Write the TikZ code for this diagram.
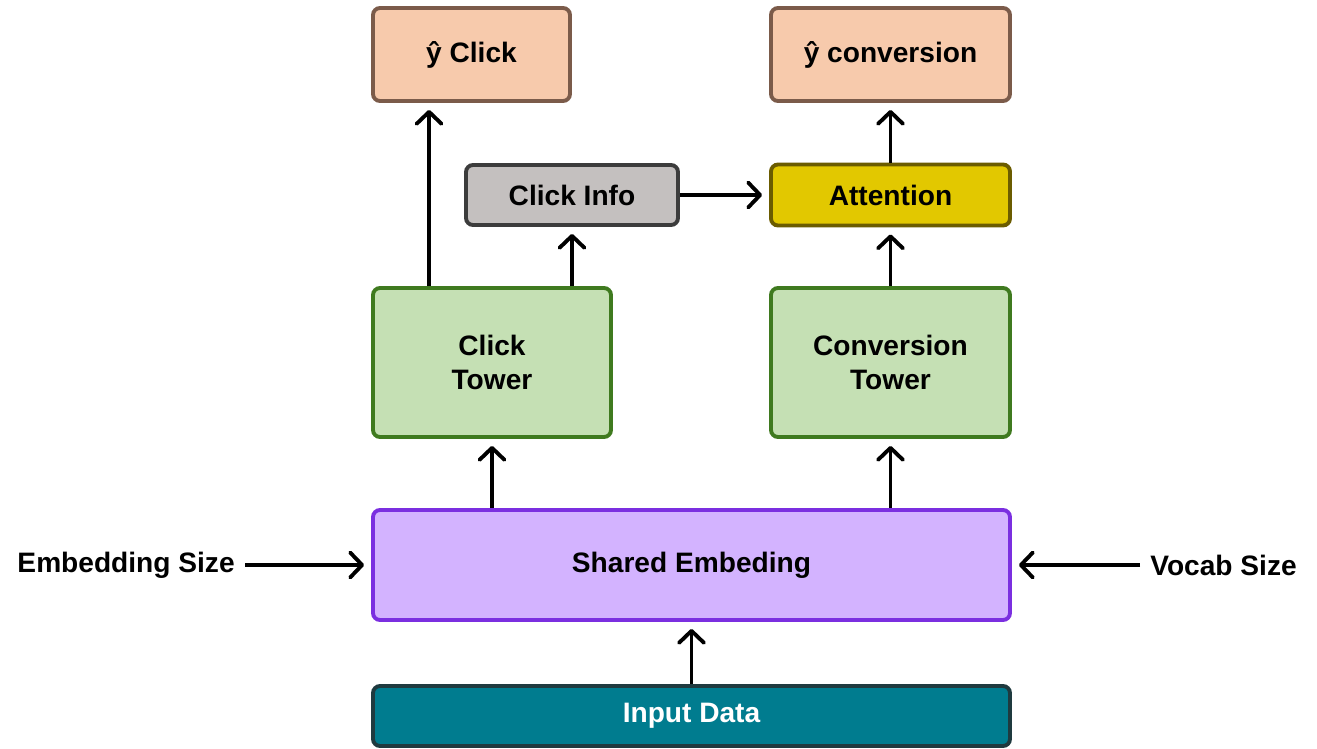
\documentclass[tikz,border=0pt]{standalone}
\usepackage{fontspec}
\setmainfont{Liberation Sans}
\usetikzlibrary{arrows.meta, positioning, calc}
\definecolor{peach}{HTML}{F7CAAC}
\definecolor{peachline}{HTML}{7B5B4A}
\definecolor{infogray}{HTML}{C4C0BF}
\definecolor{infoline}{HTML}{3C3C3C}
\definecolor{attfill}{HTML}{E2C800}
\definecolor{attline}{HTML}{6B5C00}
\definecolor{towerfill}{HTML}{C5E0B4}
\definecolor{towerline}{HTML}{3F7A1F}
\definecolor{embfill}{HTML}{D3B3FF}
\definecolor{embline}{HTML}{7B2FE0}
\definecolor{inputfill}{HTML}{007C8F}
\definecolor{inputline}{HTML}{1F3A3F}

\begin{document}
\begin{tikzpicture}[
  every node/.style={font=\bfseries\fontsize{16}{19.5}\selectfont},
  box/.style={draw, line width=2.2pt, rounded corners=0.14cm, align=center, inner sep=0},
  outbox/.style={box, fill=peach, draw=peachline, minimum height=1.86cm},
  tower/.style={box, fill=towerfill, draw=towerline, minimum width=4.76cm, minimum height=2.98cm},
  sidelabel/.style={inner sep=0.2cm},
  arr/.style={line width=2.2pt, shorten >=0.14cm,
              -{Straight Barb[length=2.4mm, width=5mm, line cap=round, line join=round]}}
]
\useasboundingbox (0,0) rectangle (26.34,-14.98);

% Output heads
\node[outbox, minimum width=3.94cm] (yclick) at (9.43,-1.09) {ŷ Click};
\node[outbox, minimum width=4.78cm] (yconv) at (17.81,-1.09) {ŷ conversion};

% Middle row
\node[box, fill=infogray, draw=infoline, minimum width=4.24cm, minimum height=1.2cm]
  (clickinfo) at (11.44,-3.9) {Click Info};
\node[box, fill=attfill, draw=attline, minimum width=4.78cm, minimum height=1.22cm]
  (attention) at (17.81,-3.9) {Attention};

% Towers
\node[tower] (clicktower) at (9.84,-7.25) {Click\\Tower};
\node[tower, minimum width=4.78cm] (convtower) at (17.81,-7.25) {Conversion\\Tower};

% Shared embedding and input
\node[box, fill=embfill, draw=embline, minimum width=12.74cm, minimum height=2.2cm]
  (shared) at (13.83,-11.3) {Shared Embeding};
\node[box, fill=inputfill, draw=inputline, text=white, minimum width=12.74cm, minimum height=1.2cm]
  (input) at (13.83,-14.32) {Input Data};

% Side inputs
\node[sidelabel, anchor=east] (embsize) at (4.9,-11.3) {Embedding Size};
\node[sidelabel, anchor=west] (vocab) at (22.8,-11.3) {Vocab Size};

% Connectors
\coordinate (ctop) at ([xshift=1.16cm]clicktower.north west);
\draw[arr] (ctop) -- (ctop |- yclick.south);
\draw[arr] (clickinfo.south |- clicktower.north) -- (clickinfo.south);
\draw[arr] (clickinfo.east) -- (attention.west);
\draw[arr] (attention.north) -- (yconv.south);
\draw[arr] (convtower.north) -- (attention.south);
\draw[arr] (clicktower.south |- shared.north) -- (clicktower.south);
\draw[arr] (convtower.south |- shared.north) -- (convtower.south);
\draw[arr] (input.north) -- (shared.south);
\draw[arr] (embsize.east) -- (shared.west);
\draw[arr] (vocab.west) -- (shared.east);

\end{tikzpicture}
\end{document}
